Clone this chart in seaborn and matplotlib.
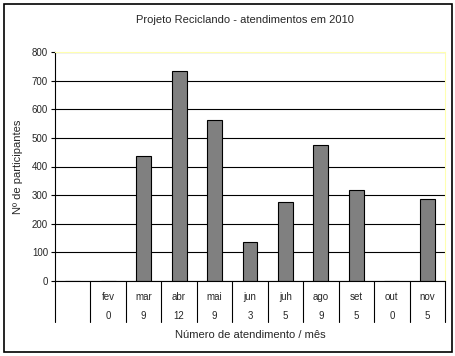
import matplotlib
matplotlib.use("Agg")
import matplotlib.pyplot as plt
import matplotlib.transforms as mtransforms
import seaborn as sns
import pandas as pd

# data
meses = ['', 'fev', 'mar', 'abr', 'mai', 'jun', 'juh', 'ago', 'set', 'out', 'nov']
participantes = [0, 0, 435, 733, 562, 137, 276, 475, 318, 0, 287]
atendimentos = ['', '0', '9', '12', '9', '3', '5', '9', '5', '0', '5']

df = pd.DataFrame({'pos': range(len(meses)), 'participantes': participantes})

sns.set_style('white')
plt.rcParams['font.family'] = ['Liberation Sans', 'DejaVu Sans']

fig = plt.figure(figsize=(4.56, 3.56), dpi=100)
ax = fig.add_axes([55/456, 1 - 281/356, 390/456, 229/356])

sns.barplot(data=df, x='pos', y='participantes', color='#808080',
            edgecolor='black', linewidth=0.8, width=0.42, saturation=1, ax=ax)

ax.set_ylim(0, 800)
ax.set_xlim(-0.5, len(meses) - 0.5)
ax.set_yticks(range(0, 801, 100))
ax.tick_params(axis='y', labelsize=7, length=3, width=0.8, color='black', pad=2, left=True)
ax.set_xticks([])
ax.set_xlabel('')
ax.set_ylabel('Nº de participantes', fontsize=8, labelpad=6)
ax.yaxis.grid(True, color='black', linewidth=0.8)
ax.set_axisbelow(True)

ax.spines['left'].set_color('black')
ax.spines['bottom'].set_color('black')
ax.spines['top'].set_color('#ffffb0')
ax.spines['right'].set_color('#ffffb0')
for s in ax.spines.values():
    s.set_linewidth(0.8)

# data table under the axis
trans = mtransforms.blended_transform_factory(ax.transData, ax.transAxes)
tbl_h = 41 / 229
for i in range(len(meses) + 1):
    ax.plot([i - 0.5, i - 0.5], [0, -tbl_h], color='black', linewidth=0.8,
            transform=trans, clip_on=False)
for i, (m, n) in enumerate(zip(meses, atendimentos)):
    ax.text(i, -16 / 229, m, transform=trans, ha='center', va='center', fontsize=7)
    ax.text(i, -35 / 229, n, transform=trans, ha='center', va='center', fontsize=7)

fig.text(250/456, 1 - 335/356, 'Número de atendimento / mês', ha='center', va='center', fontsize=8)
fig.suptitle('Projeto Reciclando - atendimentos em 2010', x=245/456, y=1 - 20/356,
             va='center', fontsize=8)

# outer border
fig.patches.append(plt.Rectangle((4/456, 4/356), 448/456, 348/356, transform=fig.transFigure,
                                 fill=False, edgecolor='black', linewidth=1.2))

fig.savefig('out.png', dpi=100)
